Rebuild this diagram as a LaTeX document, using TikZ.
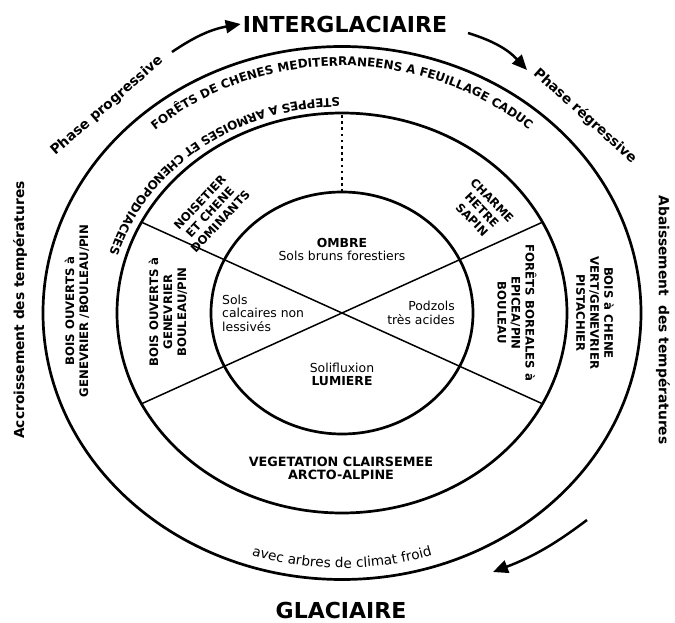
\documentclass[tikz,border=0pt]{standalone}
\usepackage{fontspec}
\setmainfont{DejaVu Sans}
\usetikzlibrary{arrows.meta,decorations.text}
\newcommand\bigfont{\bfseries\fontsize{22}{26}\selectfont}
\newcommand\sidefont{\bfseries\fontsize{13.8}{16}\selectfont}
\newcommand\zonefont{\bfseries\fontsize{11.7}{14}\selectfont}
\newcommand\ringfont{\bfseries\fontsize{12}{14}\selectfont}
\newcommand\vegefont{\bfseries\fontsize{12.8}{13.5}\selectfont}
\newcommand\soilfont{\fontsize{12.4}{13.5}\selectfont}
\newcommand\froidfont{\fontsize{13.6}{15}\selectfont}

\begin{document}
\begin{tikzpicture}[x=1pt, y=1pt,
    ring/.style={line width=2.7pt},
    radial/.style={line width=1.5pt},
    dotline/.style={line width=2.6pt, dash pattern=on 2.6pt off 3.6pt},
    cyclearrow/.style={line width=2.5pt, -{Triangle[length=15pt,width=13pt]}},
    title/.style={font=\bigfont, inner sep=2pt},
    phase/.style={font=\sidefont, inner sep=0pt},
    zone/.style={font=\zonefont, align=center, inner sep=0pt},
    soil/.style={font=\soilfont, inner sep=0pt}]
      \useasboundingbox (-342,-310) rectangle (333,313);

      \draw[ring] (0,0) ellipse [x radius=299, y radius=266.5];
      \draw[ring] (0,0) ellipse [x radius=225, y radius=200];
      \draw[ring] (0,0) ellipse [x radius=131, y radius=121];

      \coordinate (nw) at (153:225 and 200);
      \coordinate (ne) at (27:225 and 200);
      \coordinate (sw) at (207:225 and 200);
      \coordinate (se) at (333:225 and 200);
      \coordinate (innertop) at (0,121);
      \coordinate (midtop) at (0,200);
      \draw[radial] (nw) -- (se);
      \draw[radial] (sw) -- (ne);
      \draw[dotline] (innertop) -- (midtop);

      \node[title] (inter) at (3,289) {INTERGLACIAIRE};
      \node[title] (glac) at (-1,-297) {GLACIAIRE};
      \node[phase, rotate=41] (prog) at (-235,207) {Phase progressive};
      \node[phase, rotate=-42] (regr) at (243,197) {Phase régressive};
      \node[phase, rotate=90] (accr) at (-322,3) {Accroissement des températures};
      \node[phase, rotate=-90] (abai) at (321,-7) {Abaissement\ \ des températures};

      \coordinate (progtail) at (-170,261);
      \coordinate (regrtail) at (126,280);
      \coordinate (regrtip) at (185,243);
      \coordinate (glactail) at (245,-207);
      \coordinate (glactip) at (151,-259);
      \draw[cyclearrow] (progtail) to[bend left=12] (inter.west);
      \draw[cyclearrow] (regrtail) to[bend left=15] (regrtip);
      \draw[cyclearrow] (glactail) to[bend left=8] (glactip);

      \path[decorate, decoration={text along path, text align=center,
          text={|\ringfont|FORÊTS DE CHENES MEDITERRANEENS A FEUILLAGE CADUC}}]
        (160:278 and 247) arc[start angle=160, end angle=20, x radius=278, y radius=247];
      \path[decorate, decoration={text along path,
          text={|\ringfont|STEPPES A ARMOISES ET CHENOPODIACEES}}]
        (90.5:242 and 215) arc[start angle=90.5, end angle=180, x radius=242, y radius=215];
      \path[decorate, decoration={text along path, text align=center,
          text={|\froidfont|avec arbres de climat froid}}]
        (220:287 and 255) arc[start angle=220, end angle=320, x radius=287, y radius=255];

      \node[zone, rotate=47] (noise) at (-132,101) {NOISETIER\\ET CHENE\\DOMINANTS};
      \node[zone, rotate=-46] (charme) at (140,103) {CHARME\\HETRE\\SAPIN};
      \node[zone, rotate=90] (boisin) at (-174,1) {BOIS OUVERTS à\\GENEVRIER\\BOULEAU/PIN};
      \node[zone, rotate=-90] (boreal) at (175,0) {FORÊTS BOREALES à\\EPICEA/PIN\\BOULEAU};
      \node[zone, rotate=90] (boisout) at (-265,2) {BOIS OUVERTS à\\GENEVRIER /BOULEAU/PIN};
      \node[zone, rotate=-90] (chene) at (253,0) {BOIS à CHENE\\VERT/GENEVRIER\\PISTACHIER};
      \node[zone, font=\vegefont] (vege) at (-1,-155.5) {VEGETATION CLAIRSEMEE\\ARCTO-ALPINE};

      \node[soil, align=center] (ombre) at (0,63.5) {\textbf{OMBRE}\\Sols bruns forestiers};
      \node[soil, align=left, anchor=west] (calc) at (-120,0) {Sols\\calcaires non\\lessivés};
      \node[soil, align=right, anchor=east] (podz) at (113,0) {Podzols\\très acides};
      \node[soil, align=center] (lumi) at (0,-61.5) {Solifluxion\\\textbf{LUMIERE}};
    \end{tikzpicture}
\end{document}
